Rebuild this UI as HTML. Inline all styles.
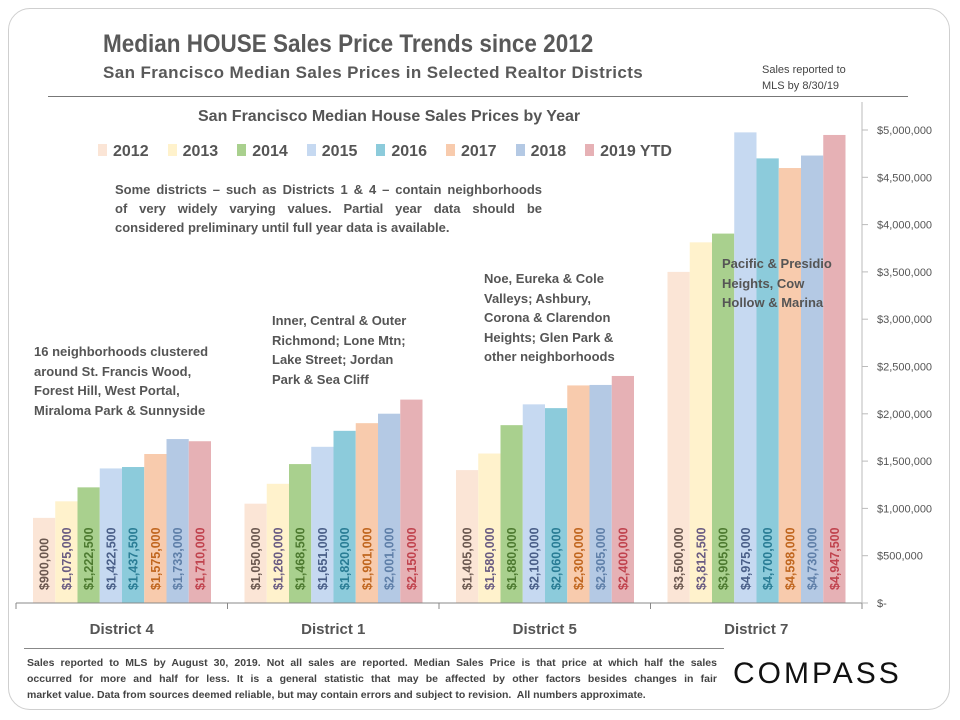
<!DOCTYPE html>
<html><head><meta charset="utf-8"><style>
body{margin:0;background:#fff;font-family:"Liberation Sans",sans-serif;}
#card{position:absolute;left:8px;top:8px;width:940px;height:700px;border:1.5px solid #cfcfcf;border-radius:22px;background:#fff;}
.t{position:absolute;color:#555;white-space:nowrap;}
.j{display:block;text-align:justify;text-align-last:justify;}
</style></head><body>
<div id="card"></div>
<div class="t" style="left:103px;top:30px;font-size:25px;font-weight:bold;color:#595959;transform:scaleX(0.9);transform-origin:left;">Median HOUSE Sales Price Trends since 2012</div>
<div class="t" style="left:103px;top:63px;font-size:17px;font-weight:bold;color:#595959;letter-spacing:0.4px;">San Francisco Median Sales Prices in Selected Realtor Districts</div>
<div class="t" style="left:762px;top:62px;font-size:11px;line-height:16px;color:#444;">Sales reported to<br>MLS by 8/30/19</div>
<div style="position:absolute;left:48px;top:96px;width:860px;height:1px;background:#777;"></div>
<div class="t" style="left:198px;top:108px;font-size:16px;font-weight:bold;color:#555;">San Francisco Median House Sales Prices by Year</div>
<div id="legend" style="position:absolute;left:98px;top:143px;height:20px;font-size:16px;font-weight:bold;color:#555;"></div>
<div class="t" style="left:115px;top:180px;width:427px;font-size:13px;font-weight:bold;line-height:19px;white-space:normal;"><span class="j">Some districts – such as Districts 1 &amp; 4 – contain neighborhoods</span><span class="j">of very widely varying values. Partial year data should be</span><span style="display:block">considered preliminary until full year data is available.</span></div>
<div class="t" style="left:34px;top:342px;font-size:13px;font-weight:bold;line-height:19.5px;">16 neighborhoods clustered<br>around St. Francis Wood,<br>Forest Hill, West Portal,<br>Miraloma Park &amp; Sunnyside</div>
<div class="t" style="left:272px;top:311px;font-size:13px;font-weight:bold;line-height:19.5px;">Inner, Central &amp; Outer<br>Richmond; Lone Mtn;<br>Lake Street; Jordan<br>Park &amp; Sea Cliff</div>
<div class="t" style="left:484px;top:269px;font-size:13px;font-weight:bold;line-height:19.5px;">Noe, Eureka &amp; Cole<br>Valleys; Ashbury,<br>Corona &amp; Clarendon<br>Heights; Glen Park &amp;<br>other neighborhoods</div>
<svg id="chart" width="960" height="720" style="position:absolute;left:0;top:0;"></svg>
<div class="t" style="left:722px;top:254px;font-size:13px;font-weight:bold;line-height:19.5px;">Pacific &amp; Presidio<br>Heights, Cow<br>Hollow &amp; Marina</div>
<div style="position:absolute;left:24px;top:648px;width:700px;height:1px;background:#888;"></div>
<div class="t" style="left:27px;top:655px;width:690px;font-size:10.5px;font-weight:bold;line-height:16px;white-space:normal;color:#444;"><span class="j">Sales reported to MLS by August 30, 2019. Not all sales are reported. Median Sales Price is that price at which half the sales</span><span class="j">occurred for more and half for less. It is a general statistic that may be affected by other factors besides changes in fair</span><span style="display:block">market value. Data from sources deemed reliable, but may contain errors and subject to revision.&nbsp; All numbers approximate.</span></div>
<div class="t" style="left:733px;top:657px;font-size:30px;letter-spacing:3px;color:#111;">COMPASS</div>
<script>
const years=["2012","2013","2014","2015","2016","2017","2018","2019 YTD"];
const districts=["District 4","District 1","District 5","District 7"];
const d4=[900000,1075000,1222500,1422500,1437500,1575000,1733000,1710000];
const d1=[1050000,1260000,1468500,1651000,1820000,1901000,2001000,2150000];
const d5=[1405000,1580000,1880000,2100000,2060000,2300000,2305000,2400000];
const d7=[3500000,3812500,3905000,4975000,4700000,4598000,4730000,4947500];
const yTicks=[0,500000,1000000,1500000,2000000,2500000,3000000,3500000,4000000,4500000,5000000];
const yTickLabels=["$-","$500,000","$1,000,000","$1,500,000","$2,000,000","$2,500,000","$3,000,000","$3,500,000","$4,000,000","$4,500,000","$5,000,000"];
const fills=["#fbe5d6","#fff2cc","#a9d08e","#c6d9f1","#8ccbdb","#f8cbad","#b4c9e4","#e6b1b5"];
const labelColors=["#6b5850","#6a5c82","#4d7a30","#4a5f88","#2a7d95","#c0661f","#5f7fa8","#c0434e"];
const series=[d4,d1,d5,d7];
const svg=document.getElementById('chart');const NS="http://www.w3.org/2000/svg";
const x0=16,x1=862,y0=603,y1=130,gw=(x1-x0)/4,bw=22.25,pad=17;
const yS=v=>y0-(v/5000000)*(y0-y1);
function mk(t,a){const e=document.createElementNS(NS,t);for(const k in a)e.setAttribute(k,a[k]);svg.appendChild(e);return e;}
series.forEach((s,g)=>{s.forEach((v,i)=>{const x=x0+g*gw+pad+i*bw;
const r=mk('rect',{x:x,y:yS(v),width:bw,height:y0-yS(v),fill:fills[i]});


const t=mk('text',{x:0,y:0,transform:`translate(${x+bw/2+4.5},590) rotate(-90)`,fill:labelColors[i],'font-size':'12.5','font-weight':'bold','font-family':'Liberation Sans'});
t.textContent='$'+v.toLocaleString('en-US');

});
const dl=mk('text',{x:x0+g*gw+gw/2,y:634,'text-anchor':'middle',fill:'#555','font-size':'15','font-weight':'bold','font-family':'Liberation Sans'});
dl.textContent=districts[g];


});
const ax=mk('line',{x1:x0,y1:y0,x2:x1,y2:y0,stroke:'#888'});


for(let g=0;g<=4;g++){const tk=mk('line',{x1:x0+g*gw,y1:y0,x2:x0+g*gw,y2:y0+6,stroke:'#888'});

}
const ya=mk('line',{x1:x1,y1:y1-28,x2:x1,y2:y0,stroke:'#bbb'});


yTicks.forEach((v,i)=>{const tk=mk('line',{x1:x1,y1:yS(v),x2:x1+6,y2:yS(v),stroke:'#bbb'});


const t=mk('text',{x:877,y:yS(v)+4,fill:'#555','font-size':'11','font-family':'Liberation Sans'});
t.textContent=yTickLabels[i];

});
const lg=document.getElementById('legend');
years.forEach((y,i)=>{const s=document.createElement('span');


s.style.marginRight='19px';
s.innerHTML=`<span style="display:inline-block;width:9px;height:12px;background:${fills[i]};margin-right:6px;"></span>${y}`;
lg.appendChild(s);});
</script>
</body></html>
